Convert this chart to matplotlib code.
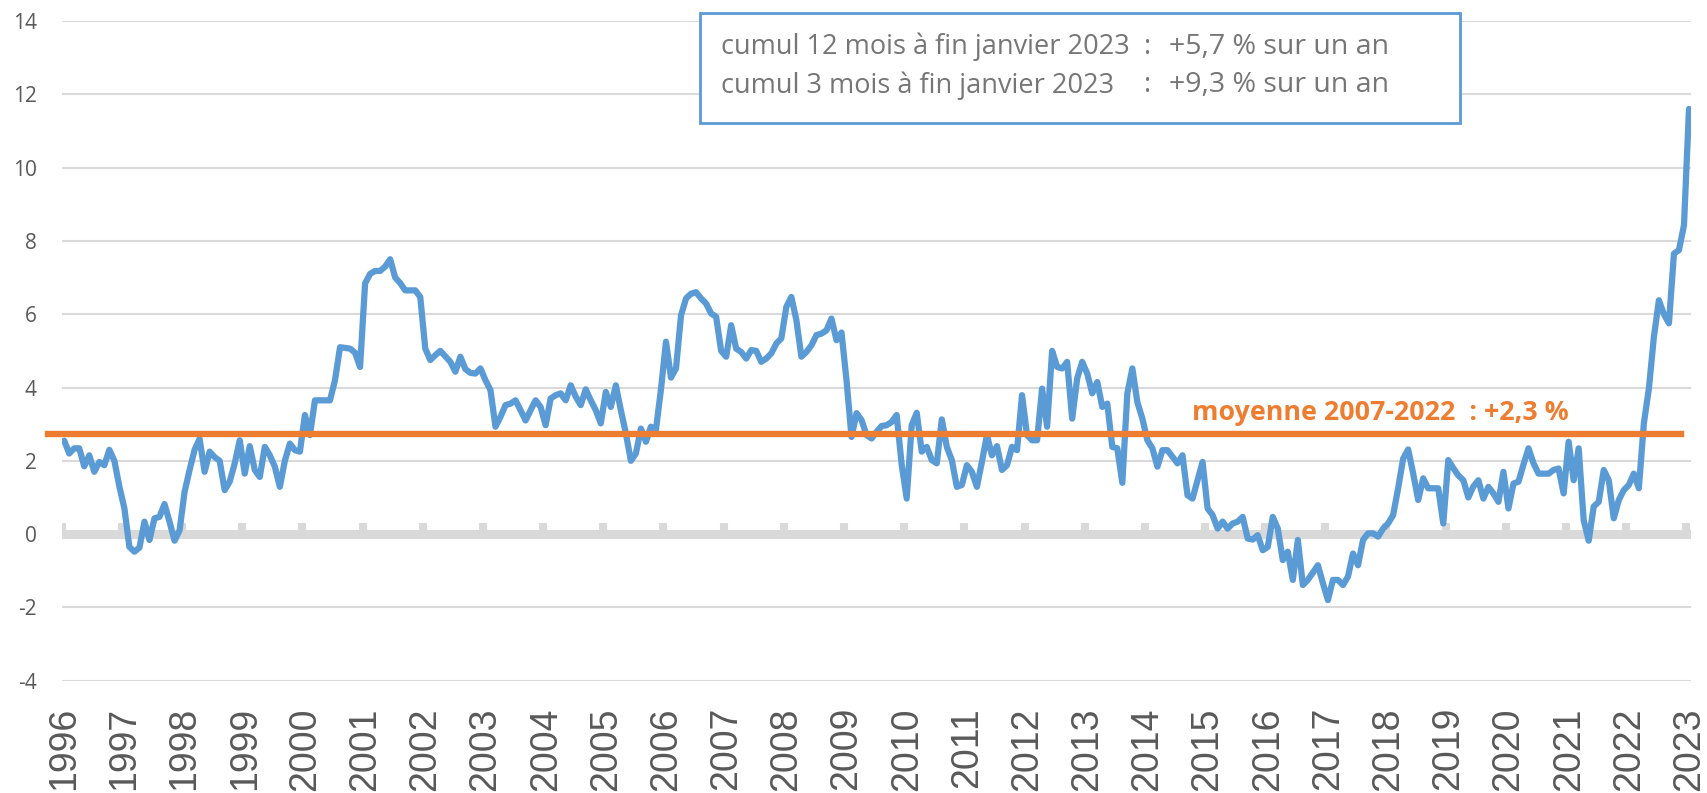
import numpy as np
import matplotlib.pyplot as plt
from matplotlib.patches import Rectangle

# glissement annuel mensuel (%), de janvier 1996 a janvier 2023
glissement = [
    2.55, 2.2, 2.34, 2.34, 1.85, 2.15, 1.7, 1.97, 1.88, 2.3, 2.0, 1.3,          # 1996
    0.7, -0.35, -0.48, -0.37, 0.34, -0.16, 0.43, 0.47, 0.82, 0.34, -0.18, 0.1,  # 1997
    1.15, 1.75, 2.3, 2.6, 1.7, 2.25, 2.1, 2.0, 1.2, 1.43, 1.93, 2.56,           # 1998
    1.65, 2.4, 1.75, 1.56, 2.38, 2.15, 1.84, 1.29, 2.0, 2.47, 2.29, 2.25,       # 1999
    3.25, 2.7, 3.65, 3.65, 3.65, 3.65, 4.2, 5.1, 5.08, 5.06, 4.95, 4.56,        # 2000
    6.84, 7.1, 7.18, 7.18, 7.3, 7.5, 7.0, 6.85, 6.65, 6.65, 6.65, 6.47,         # 2001
    5.06, 4.75, 4.88, 5.0, 4.85, 4.7, 4.43, 4.84, 4.5, 4.4, 4.38, 4.52,         # 2002
    4.2, 3.93, 2.93, 3.2, 3.52, 3.56, 3.65, 3.38, 3.1, 3.38, 3.65, 3.47,        # 2003
    2.97, 3.7, 3.79, 3.84, 3.65, 4.06, 3.75, 3.52, 3.95, 3.65, 3.38, 3.02,      # 2004
    3.88, 3.47, 4.06, 3.38, 2.75, 2.0, 2.2, 2.88, 2.52, 2.93, 2.85, 3.95,       # 2005
    5.25, 4.27, 4.52, 5.97, 6.43, 6.56, 6.6, 6.43, 6.29, 6.02, 5.93, 5.0,       # 2006
    4.84, 5.7, 5.06, 4.97, 4.79, 5.02, 5.0, 4.7, 4.79, 4.93, 5.2, 5.34,         # 2007
    6.2, 6.47, 5.84, 4.84, 4.97, 5.15, 5.43, 5.47, 5.56, 5.88, 5.29, 5.5,       # 2008
    4.2, 2.65, 3.3, 3.11, 2.7, 2.61, 2.79, 2.95, 2.97, 3.06, 3.25, 1.9,         # 2009
    0.97, 2.97, 3.31, 2.25, 2.38, 2.02, 1.93, 3.13, 2.38, 2.02, 1.29, 1.34,     # 2010
    1.88, 1.7, 1.29, 1.97, 2.7, 2.15, 2.4, 1.75, 1.88, 2.38, 2.29, 3.79,        # 2011
    2.7, 2.56, 2.56, 3.97, 2.93, 5.0, 4.56, 4.52, 4.7, 3.15, 4.25, 4.7,         # 2012
    4.38, 3.84, 4.15, 3.47, 3.56, 2.38, 2.34, 1.4, 3.84, 4.52, 3.6, 3.15,       # 2013
    2.56, 2.34, 1.84, 2.29, 2.29, 2.11, 1.93, 2.15, 1.06, 0.97, 1.47, 1.97,     # 2014
    0.7, 0.52, 0.15, 0.34, 0.15, 0.29, 0.34, 0.47, -0.12, -0.15, -0.03, -0.44,  # 2015
    -0.35, 0.47, 0.15, -0.71, -0.48, -1.25, -0.16, -1.39, -1.25, -1.05, -0.85, -1.34,  # 2016
    -1.8, -1.25, -1.25, -1.39, -1.16, -0.53, -0.85, -0.16, 0.02, 0.02, -0.07, 0.15,    # 2017
    0.29, 0.52, 1.25, 2.06, 2.31, 1.65, 0.93, 1.52, 1.25, 1.25, 1.25, 0.29,     # 2018
    2.02, 1.8, 1.6, 1.47, 1.0, 1.3, 1.47, 0.97, 1.29, 1.11, 0.88, 1.7,          # 2019
    0.7, 1.38, 1.43, 1.9, 2.34, 1.93, 1.65, 1.65, 1.65, 1.75, 1.79, 1.11,       # 2020
    2.52, 1.47, 2.34, 0.38, -0.18, 0.75, 0.88, 1.75, 1.47, 0.43, 0.93, 1.2,     # 2021
    1.34, 1.65, 1.25, 3.02, 3.97, 5.38, 6.38, 6.0, 5.75, 7.65, 7.75, 8.43,      # 2022
    11.6,                                                                       # 2023
]
annees = [str(a) for a in range(1996, 2024)]
moyenne = 2.73
label_moyenne = "moyenne 2007-2022  : +2,3 %"
cumul_textes = ["cumul 12 mois à fin janvier 2023", "cumul 3 mois à fin janvier 2023"]
cumul_valeurs = ["+5,7 % sur un an", "+9,3 % sur un an"]

BLEU = "#5B9BD5"
ORANGE = "#ED7D31"
GRIS = "#D9D9D9"
TEXTE = "#595959"

plt.rcParams["font.family"] = ["Open Sans", "DejaVu Sans"]
plt.rcParams["axes.unicode_minus"] = False

W, H = 1708, 793
fig = plt.figure(figsize=(W / 100, H / 100), dpi=100)
ax = fig.add_axes([61.7 / W, 1 - 680.7 / H, (1691.5 - 61.7) / W, (680.7 - 21) / H])

x = np.arange(len(glissement))
ax.set_xlim(-0.5, len(glissement) - 0.5)
ax.set_ylim(-4, 14)
ax.set_yticks(range(-4, 15, 2))
ax.grid(axis="y", color=GRIS, lw=1.5)
ax.set_axisbelow(True)
for s in ax.spines.values():
    s.set_visible(False)

ax.tick_params(axis="y", length=0, pad=18, labelsize=15, labelcolor=TEXTE)
ax.set_xticks(x[::12])
ax.set_xticklabels(annees, rotation=90, fontsize=27, color=TEXTE,
                   family=["Liberation Sans Narrow", "Liberation Sans"], va="top")
ax.tick_params(axis="x", length=0, pad=19)

# axe horizontal a zero avec ses graduations
ax.axhline(0, color=GRIS, lw=6.5, zorder=1.5)
ax.vlines(np.arange(-0.5, len(glissement), 12), 0, 0.31, color=GRIS, lw=5.8, zorder=1.5)

ax.plot(x, glissement, color=BLEU, lw=4.5, solid_joinstyle="round",
        solid_capstyle="round", zorder=3)
ax.axhline(moyenne, xmin=-0.0083, xmax=0.9935, color=ORANGE, lw=4.6,
           clip_on=False, zorder=4)
ax.text(224.9, 3.11, label_moyenne, color=ORANGE, fontsize=19.3,
        fontweight="bold", ha="left", va="baseline")

# encadre des cumuls
box = Rectangle((700 / W, 1 - 123 / H), 760 / W, 110 / H, transform=fig.transFigure,
                facecolor="white", edgecolor=BLEU, lw=2, zorder=5)
fig.patches.append(box)
for ligne, (t, v) in enumerate(zip(cumul_textes, cumul_valeurs)):
    yb = 1 - (54 + 38.5 * ligne) / H
    fig.text(721 / W, yb, t, fontsize=19.5, color="#767676", va="baseline", zorder=6)
    fig.text(1148 / W, yb, ":", fontsize=19.5, color="#767676", va="baseline",
             ha="center", zorder=6)
    fig.text(1169 / W, yb, v, fontsize=20.5, color="#767676", va="baseline", zorder=6)

fig.savefig("out.png", dpi=100)
